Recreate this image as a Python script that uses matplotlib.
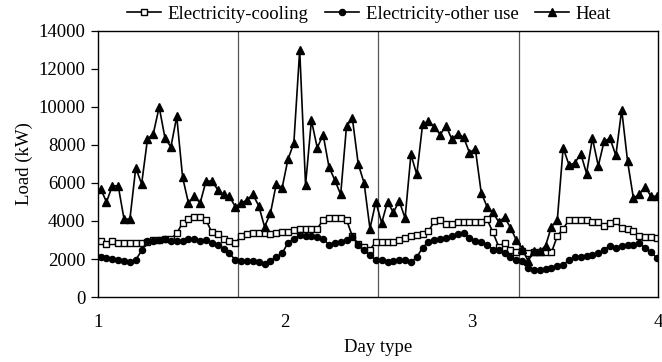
import numpy as np
import matplotlib
matplotlib.use("Agg")
import matplotlib.pyplot as plt

plt.rcParams['font.family'] = ['Liberation Serif', 'DejaVu Serif']

# ---- data (kW), 24 hourly values for each of the 4 day types ----
heat = [
    5700, 5000, 5850, 5850, 4100, 4100, 6800, 5950, 8300, 8600, 10000, 8350,
    7900, 9500, 6300, 4950, 5300, 4950, 6100, 6100, 5650, 5400, 5300, 4750,
    4950, 5100, 5400, 4800, 3700, 4400, 5950, 5750, 7250, 8100, 13000, 5900,
    9300, 7850, 8550, 6850, 6150, 5400, 9000, 9400, 7000, 6000, 3600, 5000,
    3900, 5000, 4450, 5050, 4150, 7500, 6450, 9100, 9250, 8950, 8550, 9000,
    8300, 8600, 8400, 7600, 7800, 5500, 4750, 4450, 3950, 4200, 3650, 3000,
    2550, 1900, 2400, 2400, 2700, 3700, 4050, 7850, 6950, 7050, 7550, 6500,
    8350, 6900, 8200, 8350, 7450, 9850, 7150, 5200, 5400, 5800, 5300, 5300,
]
cooling = [
    2950, 2800, 2950, 2850, 2850, 2850, 2850, 2850, 2900, 3000, 3000, 3050,
    3050, 3350, 3900, 4100, 4200, 4200, 4050, 3400, 3300, 3050, 2950, 2850,
    3200, 3300, 3350, 3350, 3350, 3300, 3350, 3400, 3400, 3550, 3600, 3600,
    3600, 3600, 4050, 4150, 4150, 4150, 4050, 3200, 2800, 2650, 2500, 2900,
    2870, 2870, 2900, 3000, 3100, 3200, 3250, 3300, 3450, 4000, 4050, 3850,
    3850, 3950, 3950, 3950, 3950, 3950, 4100, 3400, 2650, 2850, 2450, 2350,
    2400, 2300, 2350, 2350, 2350, 2350, 3200, 3600, 4050, 4070, 4070, 4050,
    3950, 3950, 3750, 3900, 3980, 3630, 3600, 3450, 3190, 3150, 3150, 3100,
]
other_use = [
    2100, 2050, 2000, 1950, 1900, 1850, 1950, 2450, 2950, 2950, 3000, 3050,
    2950, 2950, 2950, 3050, 3050, 2950, 3000, 2850, 2750, 2550, 2300, 1950,
    1900, 1900, 1900, 1850, 1750, 1900, 2100, 2300, 2850, 3050, 3250, 3200,
    3200, 3150, 3050, 2750, 2850, 2900, 3000, 3150, 2750, 2450, 2200, 1950,
    1930, 1850, 1880, 1960, 1930, 1820, 2100, 2600, 2900, 3000, 3050, 3100,
    3200, 3300, 3350, 3100, 2950, 2900, 2750, 2500, 2450, 2300, 2100, 1950,
    1880, 1520, 1440, 1440, 1470, 1520, 1610, 1700, 1930, 2100, 2100, 2170,
    2230, 2310, 2490, 2700, 2580, 2660, 2720, 2750, 2840, 2580, 2370, 2050,
]
series_names = ["Electricity-cooling", "Electricity-other use", "Heat"]
day_labels = ["1", "2", "3", "4"]
hours_per_day = 24
y_ticks = [0, 2000, 4000, 6000, 8000, 10000, 12000, 14000]

x = np.arange(len(heat))

fig = plt.figure(figsize=(6.62, 3.62), dpi=100)
ax = fig.add_axes([98/662, 1-297/362, 560/662, 266/362])

fs = 13.5
lw = 1.2
l1, = ax.plot(x, cooling, color='black', lw=lw, marker='s', ms=4.4,
              mfc='white', mec='black', mew=1.0, label=series_names[0])
l2, = ax.plot(x, other_use, color='black', lw=lw, marker='o', ms=4.4,
              mfc='black', mec='black', label=series_names[1])
l3, = ax.plot(x, heat, color='black', lw=lw, marker='^', ms=5.4,
              mfc='black', mec='black', label=series_names[2])

x0, x1 = -0.45, 95.2
ax.set_xlim(x0, x1)
ax.set_ylim(0, 14000)

# day separators
for k in range(1, 4):
    ax.axvline(k*hours_per_day - 0.6, color='#555555', lw=0.9, zorder=0)

ax.set_xticks(np.linspace(x0, x1, len(day_labels)))
ax.set_xticklabels(day_labels, fontsize=fs)
ax.tick_params(axis='x', length=0, pad=12)
ax.set_yticks(y_ticks)
ax.set_yticklabels([str(v) for v in y_ticks], fontsize=fs)
ax.tick_params(axis='y', direction='out', length=5, width=0.9, pad=4)

for s in ax.spines.values():
    s.set_linewidth(1.0)
    s.set_color('black')

ax.set_xlabel("Day type", fontsize=fs, labelpad=6)
ax.set_ylabel("Load (kW)", fontsize=fs, labelpad=4)

fig.legend(handles=[l1, l2, l3], loc='center', bbox_to_anchor=(369/662, 1-14/362),
           ncol=3, frameon=False, fontsize=fs, handlelength=1.8,
           handletextpad=0.35, columnspacing=0.9, borderpad=0)

fig.savefig("out.png", dpi=100)
